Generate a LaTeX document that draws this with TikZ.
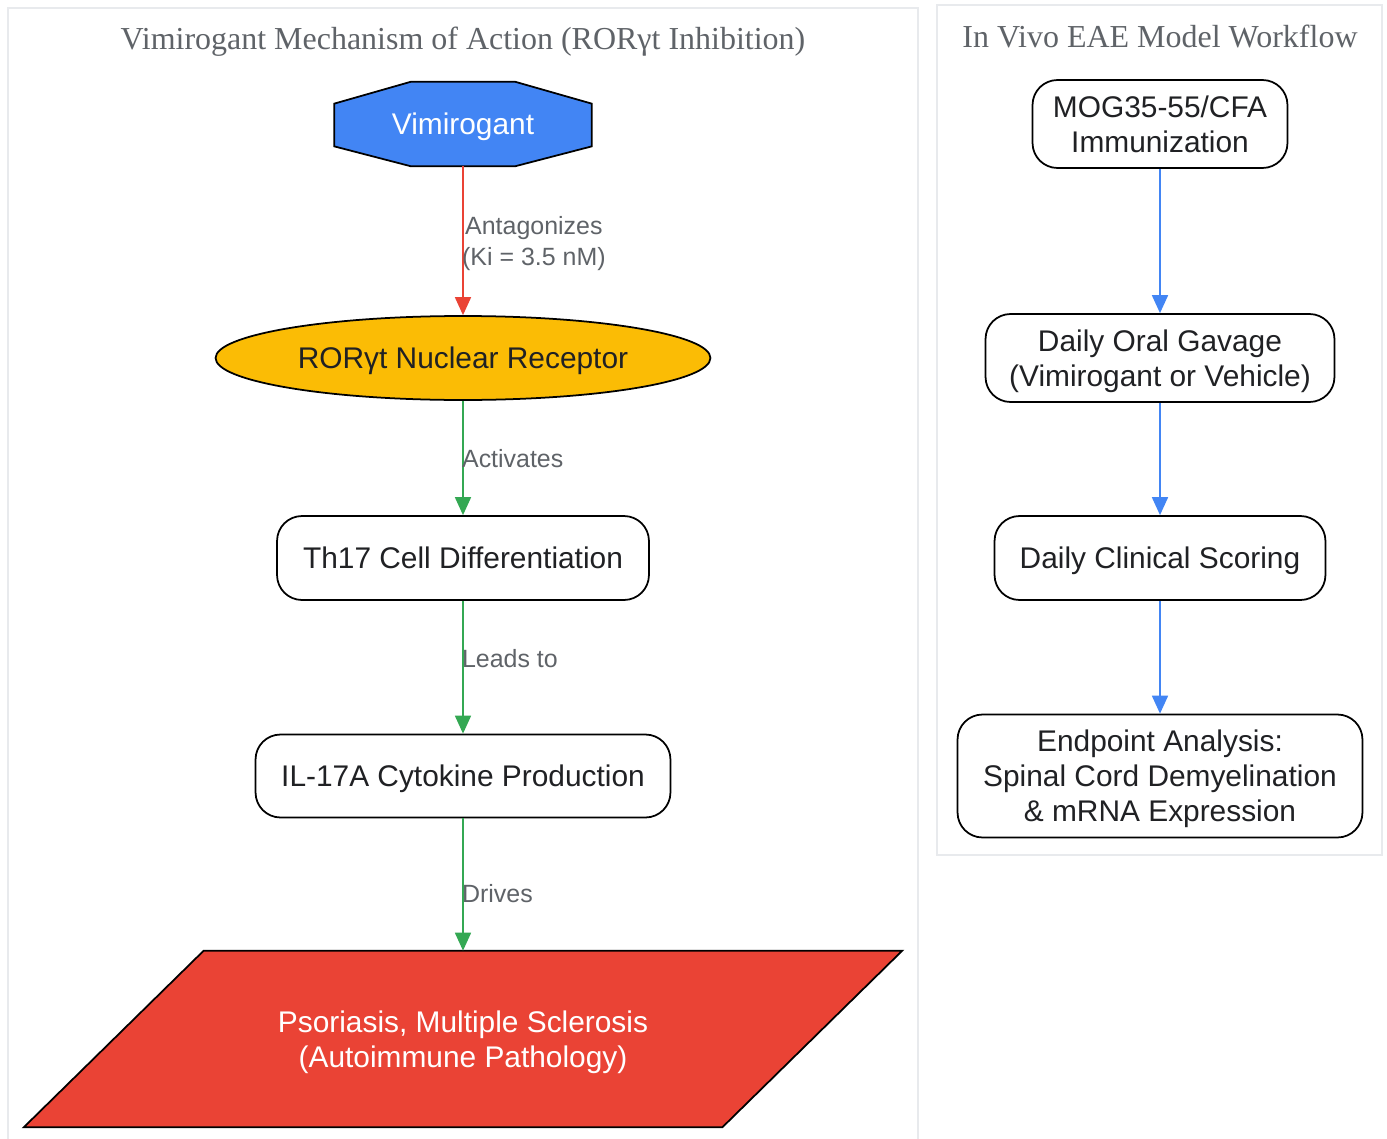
\documentclass[tikz,border=0pt]{standalone}
\usepackage{fontspec}
\setmainfont{Liberation Sans}
\newfontfamily\titrefont{Liberation Serif}
\usetikzlibrary{shapes.geometric, arrows.meta}

\definecolor{bleu}{HTML}{4285F4}
\definecolor{jaune}{HTML}{FBBC05}
\definecolor{rouge}{HTML}{EA4335}
\definecolor{vert}{HTML}{34A853}
\definecolor{gristexte}{HTML}{5F6368}
\definecolor{noir}{HTML}{202124}
\definecolor{cadre}{HTML}{E8EAED}

\begin{document}
\begin{tikzpicture}[x=0.02cm, y=-0.02cm]
			\tikzset{noeud/.style={draw=black, line width=1pt, inner sep=0pt, align=center, text depth=0pt, text=noir, font=\fontsize{17}{20}\selectfont},
				boite/.style={noeud, rectangle, rounded corners=0.5cm, fill=white},
				fleche/.style={-{Triangle[length=0.36cm, width=0.32cm]}, line width=1pt},
				etiquette/.style={right, inner sep=0pt, xshift=-1pt, text depth=0pt, align=center, text=gristexte, font=\fontsize{14.2}{17.6}\selectfont},
				groupe/.style={draw=cadre, line width=1pt, fill=white},
				titre/.style={text=gristexte, text depth=0pt, font=\titrefont\fontsize{18.2}{20}\selectfont}};

			\useasboundingbox (0,0) rectangle (1387,1139);
			\begin{scope}
				\clip (0,0) rectangle (1387,1139);
				\draw[groupe] (8,8) rectangle (918,1160);
				\draw[groupe] (937,5) rectangle (1382,855);
			\end{scope}

			\node[titre] (titre1) at ( 463,   38) {Vimirogant Mechanism of Action (RORγt Inhibition)};
			\node[titre] (titre2) at (1160,   36) {In Vivo EAE Model Workflow};

			% mecanisme
			\node[minimum width=5.14cm, minimum height=1.68cm, inner sep=0pt] (vimi) at (463, 124) {};
			\draw[fill=bleu, line width=1pt] ([xshift=1.54cm]vimi.north west) -- ([xshift=-1.54cm]vimi.north east)
				-- ([yshift=-0.44cm]vimi.north east) -- ([yshift=0.4cm]vimi.south east)
				-- ([xshift=-1.54cm]vimi.south east) -- ([xshift=1.54cm]vimi.south west)
				-- ([yshift=0.4cm]vimi.south west) -- ([yshift=-0.44cm]vimi.north west) -- cycle;
			\node[text=white, text depth=0pt, font=\fontsize{17}{20}\selectfont] (vimitxt) at (vimi.center) {Vimirogant};

			\node[noeud, ellipse, fill=jaune, minimum width=9.9cm, minimum height=1.68cm] (ror) at (463, 358) {RORγt Nuclear Receptor};
			\node[boite, minimum width=7.44cm, minimum height=1.68cm] (th17) at (463, 558) {Th17 Cell Differentiation};
			\node[boite, minimum width=8.3cm, minimum height=1.66cm] (il17) at (463, 776) {IL-17A Cytokine Production};

			\node[minimum width=13.96cm, minimum height=3.52cm, inner sep=0pt] (patho) at (463, 1039) {};
			\draw[fill=rouge, line width=1pt] ([xshift=1.8cm]patho.north west) -- ([xshift=1.8cm]patho.north east)
				-- ([xshift=-1.8cm]patho.south east) -- ([xshift=-1.8cm]patho.south west) -- cycle;
			\node[text=white, text depth=0pt, align=center, font=\fontsize{17}{20}\selectfont] (pathotxt) at (patho.center) {Psoriasis, Multiple Sclerosis\\(Autoimmune Pathology)};

			% protocole
			\node[boite, minimum width=5.1cm, minimum height=1.76cm] (mog) at (1160, 124) {MOG35-55/CFA\\Immunization};
			\node[boite, minimum width=6.98cm, minimum height=1.76cm] (gavage) at (1160, 358) {Daily Oral Gavage\\(Vimirogant or Vehicle)};
			\node[boite, minimum width=6.62cm, minimum height=1.68cm] (score) at (1160, 558) {Daily Clinical Scoring};
			\node[boite, minimum width=8.1cm, minimum height=2.46cm] (analyse) at (1160, 776) {Endpoint Analysis:\\Spinal Cord Demyelination\\\& mRNA Expression};

			\draw[fleche, rouge] (vimi.south) to node[etiquette] {Antagonizes\\(Ki = 3.5 nM)} (ror);
			\draw[fleche, vert] (ror) to node[etiquette] {Activates} (th17);
			\draw[fleche, vert] (th17) to node[etiquette, pos=0.43] {Leads to} (il17);
			\draw[fleche, vert] (il17) to node[etiquette, pos=0.57] {Drives} (patho.north);

			\draw[fleche, bleu] (mog) to (gavage);
			\draw[fleche, bleu] (gavage) to (score);
			\draw[fleche, bleu] (score) to (analyse);

		\end{tikzpicture}
\end{document}
